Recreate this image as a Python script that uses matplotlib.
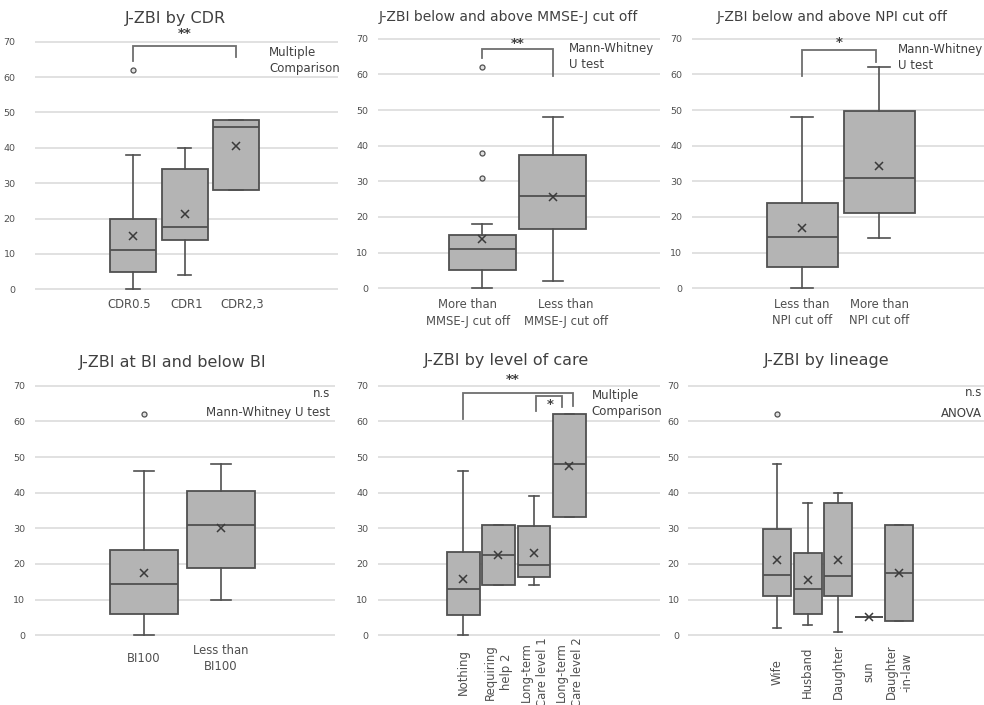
import matplotlib
matplotlib.use("Agg")
import matplotlib.pyplot as plt

plt.rcParams['font.family'] = ['DejaVu Sans']

W, H = 984, 705

# ---------------- data ----------------
cdr_labels = ["CDR0.5", "CDR1", "CDR2,3"]
cdr_min = [0, 4, 28]
cdr_q1 = [5, 14, 28]
cdr_med = [11, 17.5, 46]
cdr_q3 = [20, 34, 48]
cdr_max = [38, 40, 48]
cdr_mean = [15, 21.3, 40.6]
cdr_out = [[62], [], []]

mmse_labels = ["More than\nMMSE-J cut off", "Less than\nMMSE-J cut off"]
mmse_min = [0, 2]
mmse_q1 = [5, 16.5]
mmse_med = [11, 26]
mmse_q3 = [15, 37.5]
mmse_max = [18, 48]
mmse_mean = [13.7, 25.5]
mmse_out = [[31, 38, 62], []]

npi_labels = ["Less than\nNPI cut off", "More than\nNPI cut off"]
npi_min = [0, 14]
npi_q1 = [6, 21.2]
npi_med = [14.5, 31]
npi_q3 = [23.8, 49.6]
npi_max = [48, 62]
npi_mean = [17, 34.4]
npi_out = [[], []]

bi_labels = ["BI100", "Less than\nBI100"]
bi_min = [0, 10]
bi_q1 = [6, 19]
bi_med = [14.5, 31]
bi_q3 = [23.8, 40.4]
bi_max = [46, 48]
bi_mean = [17.6, 30]
bi_out = [[62], []]

care_labels = ["Nothing", "Requiring\nhelp 2", "Long-term\nCare level 1", "Long-term\nCare level 2"]
care_min = [0, 14, 14, 33.1]
care_q1 = [5.8, 14, 16.3, 33.1]
care_med = [13.1, 22.5, 19.6, 48.1]
care_q3 = [23.3, 31, 30.6, 62.2]
care_max = [46, 31, 39.2, 62.2]
care_mean = [15.7, 22.5, 23, 47.6]
care_out = [[], [], [], []]

lin_labels = ["Wife", "Husband", "Daughter", "sun", "Daughter\n-in-law"]
lin_min = [2, 3, 1, 5, 4]
lin_q1 = [11, 6, 11, 5, 4]
lin_med = [17, 13.1, 16.5, 5, 17.4]
lin_q3 = [29.7, 23, 37, 5, 31]
lin_max = [48, 37, 40, 5, 31]
lin_mean = [21.1, 15.5, 21, 5, 17.5]
lin_out = [[62], [], [], [], []]

titles = ["J-ZBI by CDR", "J-ZBI below and above MMSE-J cut off",
          "J-ZBI below and above NPI cut off", "J-ZBI at BI and below BI",
          "J-ZBI by level of care", "J-ZBI by lineage"]

# ---------------- style ----------------
BOX_FILL = '#b4b4b4'
EDGE = '#505050'
GRID = '#d9d9d9'
TXT = '#404040'
LBL = '#505050'
BRK = '#6e6e6e'

fig = plt.figure(figsize=(W / 100, H / 100), dpi=100)


def make_ax(left, right, top, bottom):
    return fig.add_axes([left / W, 1 - bottom / H, (right - left) / W, (bottom - top) / H])


def panel(rect, c1, sp, bw, labels, mins, q1s, meds, q3s, maxs, means, outs,
          label_center, rot=0, title=None, title_xy=None, title_size=11.5,
          label_px=None, label_size=8.4, ypad=7):
    left, right, top, bottom = rect
    ax = make_ax(left, right, top, bottom)
    n = len(labels)
    pos = list(range(1, n + 1))
    stats = [dict(whislo=a, q1=b, med=c, q3=d, whishi=e, mean=f, fliers=g, label=l)
             for a, b, c, d, e, f, g, l in zip(mins, q1s, meds, q3s, maxs, means, outs, labels)]
    w = bw / sp
    ax.bxp(stats, positions=pos, widths=w, patch_artist=True, showmeans=True,
           capwidths=w * 0.3, manage_ticks=False,
           boxprops=dict(facecolor=BOX_FILL, edgecolor=EDGE, linewidth=1.3),
           medianprops=dict(color=EDGE, linewidth=1.3),
           whiskerprops=dict(color=EDGE, linewidth=1.2),
           capprops=dict(color=EDGE, linewidth=1.2),
           meanprops=dict(marker='x', markeredgecolor='#3a3a3a', markersize=6.2,
                          markeredgewidth=1.1),
           flierprops=dict(marker='o', markersize=3.6, markerfacecolor='#e0e0e0',
                           markeredgecolor=EDGE, markeredgewidth=0.9))
    ax.set_xlim(1 - (c1 - left) / sp, 1 + (right - c1) / sp)
    ax.set_ylim(-0.2, 70.2)
    ax.set_yticks(range(0, 71, 10))
    ax.yaxis.grid(True, color=GRID, linewidth=1.1)
    ax.set_axisbelow(True)
    for s in ax.spines.values():
        s.set_visible(False)
    ax.tick_params(axis='y', length=0, pad=ypad, labelsize=6.8, labelcolor=LBL)
    if label_px is not None:
        tpos = [1 + (p - c1) / sp for p in label_px]
    else:
        tpos = pos
    ax.set_xticks(tpos)
    ax.set_xticklabels(labels, rotation=rot, ha='center', va='center',
                       multialignment='center', linespacing=1.3,
                       fontsize=label_size, color=LBL)
    ax.tick_params(axis='x', length=0, pad=(label_center - bottom) * 0.72)
    ax.patch.set_visible(False)
    if title:
        fig.text(title_xy[0] / W, 1 - title_xy[1] / H, title, ha='center', va='center',
                 fontsize=title_size, color=TXT)
    return ax


def bracket(ax, x1, x2, yl, ytop, yr, star, sy, sx=None):
    ax.plot([x1, x1, x2, x2], [yl, ytop, ytop, yr], color=BRK, lw=1.3, clip_on=False,
            solid_joinstyle='miter')
    if sx is None:
        sx = (x1 + x2) / 2
    ax.text(sx, sy, star, ha='center', va='center', fontsize=9.5, color=TXT,
            fontweight='bold')


def note(ax, x, y, s, ha='left', size=8.5):
    ax.text(x, y, s, ha=ha, va='center', fontsize=size, color=TXT, linespacing=1.3)


# Panel 1
ax1 = panel((35, 338, 41, 290), 133, 51.5, 46, cdr_labels, cdr_min, cdr_q1, cdr_med,
            cdr_q3, cdr_max, cdr_mean, cdr_out, 305, 0, titles[0], (175, 18), 11.5,
            label_px=[129, 187, 242], ypad=14)
bracket(ax1, 1, 3, 64.6, 68.8, 65.8, "**", 72.3)
note(ax1, 3.64, 64.7, "Multiple\nComparison")

# Panel 2
ax2 = panel((378, 660, 38, 289), 482, 71, 67, mmse_labels, mmse_min, mmse_q1, mmse_med,
            mmse_q3, mmse_max, mmse_mean, mmse_out, 313, 0, titles[1], (508, 17), 10,
            label_px=[468, 566])
bracket(ax2, 1, 2, 64.7, 67, 59.6, "**", 68.7)
note(ax2, 2.23, 65, "Mann-Whitney\nU test")

# Panel 3
ax3 = panel((692, 990, 38, 289), 802, 77, 71, npi_labels, npi_min, npi_q1, npi_med,
            npi_q3, npi_max, npi_mean, npi_out, 312, 0, titles[2], (832, 17), 10)
bracket(ax3, 1, 1.96, 59.5, 66.8, 63.5, "*", 68.8)
note(ax3, 2.25, 64.7, "Mann-Whitney\nU test")

# Panel 4
ax4 = panel((35, 335, 385, 636), 144, 77, 68, bi_labels, bi_min, bi_q1, bi_med,
            bi_q3, bi_max, bi_mean, bi_out, 658, 0, titles[3], (173, 362), 11.5)
x_r4 = 1 + (330 - 144) / 77
note(ax4, x_r4, 67.9, "n.s", ha='right')
note(ax4, x_r4, 62.6, "Mann-Whitney U test", ha='right')

# Panel 5
ax5 = panel((378, 660, 385, 636), 463, 35.5, 33, care_labels, care_min, care_q1, care_med,
            care_q3, care_max, care_mean, care_out, 672, 90, titles[4], (506, 361), 11.5)
bracket(ax5, 1, 4.1, 60.6, 68.0, 64.3, "**", 71.7, sx=2.4)
bracket(ax5, 3.05, 3.8, 62.8, 67.1, 63.9, "*", 64.7, sx=3.45)
note(ax5, 4.63, 64.9, "Multiple\nComparison")

# Panel 6
ax6 = panel((688, 990, 385, 636), 777, 30.5, 28, lin_labels, lin_min, lin_q1, lin_med,
            lin_q3, lin_max, lin_mean, lin_out, 672, 90, titles[5], (827, 361), 11.5,
            ypad=6)
x_r6 = 1 + (982 - 777) / 30.5
note(ax6, x_r6, 68.0, "n.s", ha='right')
note(ax6, x_r6, 62.3, "ANOVA", ha='right')

fig.savefig("out.png", dpi=100)
